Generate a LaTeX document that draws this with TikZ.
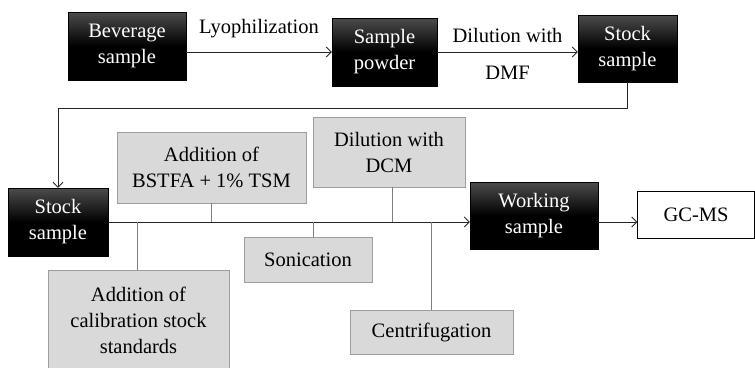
\documentclass[tikz,border=0pt]{standalone}
\usepackage{fontspec}
\setmainfont{Liberation Serif}
\usetikzlibrary{arrows.meta, positioning}

\begin{document}
\begin{tikzpicture}[x=1pt, y=-1pt,
    darkbox/.style={draw=black, top color=black!70, bottom color=black, middle color=black,
        text=white, align=center, inner sep=0pt, font=\fontsize{20.5}{26}\selectfont},
    greybox/.style={draw=black!38, fill=black!15, align=center, inner sep=0pt,
        font=\fontsize{20.5}{26}\selectfont},
    plainbox/.style={draw=black, fill=white, align=center, inner sep=0pt,
        font=\fontsize{20.5}{26}\selectfont},
    flow/.style={-{Straight Barb[length=5pt, width=10pt]}, draw=black!85, line width=0.9pt},
    joinline/.style={draw=black!50, line width=0.9pt}]
    \useasboundingbox (0,0) rectangle (755,367);

    \node[darkbox, minimum width=118pt, minimum height=68pt] (bev) at (127,46) {Beverage\\sample};
    \node[darkbox, minimum width=105pt, minimum height=68pt] (pow) at (384.5,52) {Sample\\powder};
    \node[darkbox, minimum width=99pt, minimum height=67pt] (stockA) at (627.5,48.5) {Stock\\sample};

    \draw[flow] (bev.east |- pow) -- node[above=10pt, font=\fontsize{20.5}{26}\selectfont]{Lyophilization} (pow);
    \draw[flow] (pow.east) -- node[above=6pt, font=\fontsize{20.5}{26}\selectfont]{Dilution with}
        node[below=10pt, font=\fontsize{20.5}{26}\selectfont]{DMF} (pow -| stockA.west);

    \node[darkbox, minimum width=100pt, minimum height=68pt] (stockB) at (58,222) {Stock\\sample};
    \node[darkbox, minimum width=128pt, minimum height=67pt] (work) at (534,215.5) {Working\\sample};
    \node[plainbox, minimum width=117pt, minimum height=47pt] (gcms) at (696,214.5) {GC-MS};

    \draw[flow] (stockA.south) -- ++(0,26) -| (stockB.north);
    \draw[flow] (stockB.east) -- (stockB.east -| work.west);
    \draw[flow] (work.east |- stockB.east) -- (gcms.west |- stockB.east);

    % steps joined to the main line
    \node[greybox, minimum width=189pt, minimum height=71pt] (bstfa) at (211.5,167.5) {Addition of\\BSTFA + 1\% TSM};
    \node[greybox, minimum width=152pt, minimum height=70pt] (dcm) at (389,152) {Dilution with\\DCM};
    \node[greybox, minimum width=128pt, minimum height=45pt] (sonic) at (308,259.5) {Sonication};
    \node[greybox, minimum width=181pt, minimum height=100pt] (calib) at (138.5,320) {Addition of\\calibration stock\\standards};
    \node[greybox, minimum width=163pt, minimum height=44pt] (centri) at (431.5,332) {Centrifugation};

    \draw[joinline] (bstfa.south) -- (bstfa.south |- stockB.east);
    \draw[joinline] ([xshift=3pt]dcm.south) -- ([xshift=3pt]dcm.south |- stockB.east);
    \draw[joinline] ([xshift=5pt]sonic.north) -- ([xshift=5pt]sonic.north |- stockB.east);
    \draw[joinline] ([xshift=-1.5pt]calib.north) -- ([xshift=-1.5pt]calib.north |- stockB.east);
    \draw[joinline] (centri.north) -- (centri.north |- stockB.east);
\end{tikzpicture}
\end{document}
